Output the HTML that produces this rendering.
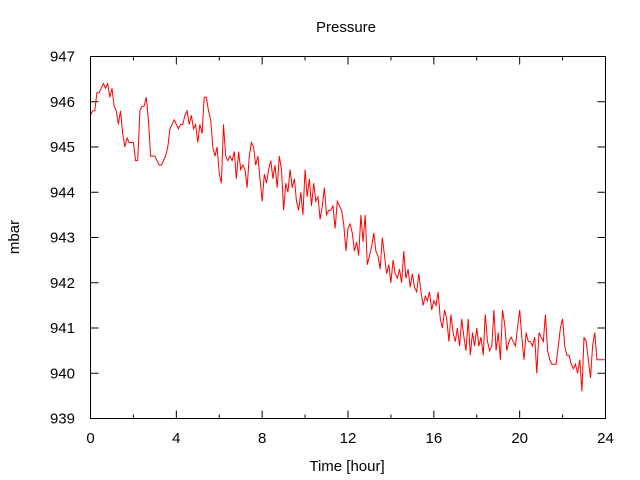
<!DOCTYPE html>
<html><head><meta charset="utf-8"><style>
body{margin:0;background:#fff;}
svg{display:block;font-family:"Liberation Sans",sans-serif;font-size:15px;}
</style></head><body>
<svg id="chart" width="640" height="480" xmlns="http://www.w3.org/2000/svg">
<rect width="640" height="480" fill="#fff"/>
<text x="346" y="32" text-anchor="middle">Pressure</text>
<text x="347" y="471" text-anchor="middle">Time [hour]</text>
<text x="19" y="237" text-anchor="middle" transform="rotate(-90 19 237)">mbar</text>
<g id="axes"></g>
<g id="series"></g>
<rect x="90.5" y="56.5" width="515" height="362" fill="none" stroke="#000" stroke-width="1"/>
</svg>
<script>
const xTicks=[0,4,8,12,16,20,24];
const yTicks=[939,940,941,942,943,944,945,946,947];
const step=0.1;
const pressure=[
945.7,945.8,945.8,946.2,946.2,946.3,946.4,946.3,946.4,946.1,
946.3,945.9,945.8,945.5,945.8,945.3,945.0,945.2,945.1,945.1,
945.1,944.7,944.7,945.8,945.9,945.9,946.1,945.6,944.8,944.8,
944.8,944.7,944.6,944.6,944.7,944.8,945.0,945.4,945.5,945.6,
945.5,945.4,945.5,945.5,945.7,945.8,945.5,945.7,945.4,945.5,
945.1,945.5,945.3,946.1,946.1,945.8,945.6,945.0,944.8,945.0,
944.4,944.2,945.5,944.8,944.7,944.8,944.7,944.9,944.3,944.9,
944.5,944.6,944.5,944.1,944.8,945.1,945.0,944.6,944.8,944.3,
943.8,944.4,944.2,944.5,944.7,944.3,944.6,944.1,944.8,944.5,
943.6,944.2,944.0,944.5,944.1,944.3,943.8,943.6,944.0,943.5,
944.5,943.9,944.3,943.7,944.2,943.8,943.9,943.4,943.7,944.1,
943.5,943.6,943.6,943.7,943.2,943.8,943.7,943.6,943.3,942.7,
943.2,943.3,943.1,942.7,942.9,942.6,943.5,942.9,943.5,942.4,
942.6,942.8,943.1,942.7,942.6,942.3,943.0,942.6,942.2,942.4,
942.0,942.5,942.2,942.1,942.3,942.0,942.7,942.1,942.3,941.9,
942.2,941.9,941.8,942.2,941.8,941.5,941.7,941.6,941.8,941.4,
941.6,941.5,941.8,941.2,941.0,941.4,941.2,940.7,941.3,940.9,
940.7,941.0,940.6,941.2,940.8,940.5,941.2,940.4,940.9,940.6,
941.0,940.6,940.8,940.4,941.3,940.7,940.5,940.6,941.4,940.5,
940.9,940.3,941.4,941.1,940.5,940.7,940.8,940.7,940.6,941.0,
941.4,940.8,940.3,940.9,940.7,940.7,940.6,940.8,940.0,940.9,
940.8,940.7,941.3,940.5,940.3,940.2,940.2,940.2,940.6,941.0,
941.2,940.6,940.4,940.4,940.2,940.1,940.2,940.0,940.3,939.6,
940.8,940.7,940.3,939.9,940.6,940.9,940.3,940.3,940.3,940.3,940.3];
const X0=90.5,X1=605.5,Y0=418.5,Y1=56.5;
function xs(h){return X0+(h-0)/(24-0)*(X1-X0);}
function ys(v){return Y0-(v-939)/(947-939)*(Y0-Y1);}
const NS="http://www.w3.org/2000/svg";
const axes=document.getElementById('axes');
function mk(tag,attrs,parent){const e=document.createElementNS(NS,tag);for(const k in attrs)e.setAttribute(k,attrs[k]);parent.appendChild(e);return e;}
yTicks.forEach(v=>{
  const y=ys(v);
  const t=mk('line',{x1:X0,x2:X0+8,y1:y,y2:y,stroke:'#000'},axes);
  
  
  const t2=mk('line',{x1:X1,x2:X1-8,y1:y,y2:y,stroke:'#000'},axes);
  
  
  const l=mk('text',{x:75,y:y+5,'text-anchor':'end'},axes);
  l.textContent=v;
  
  
});
xTicks.forEach((h,i)=>{
  const x=xs(h);
  const t=mk('line',{x1:x,x2:x,y1:Y0,y2:Y0-8,stroke:'#000'},axes);
  
  
  const t2=mk('line',{x1:x,x2:x,y1:Y1,y2:Y1+8,stroke:'#000'},axes);
  
  
  if(i<xTicks.length-1){
    const m=xs((h+xTicks[i+1])/2);
    const a=mk('line',{x1:m,x2:m,y1:Y0,y2:Y0-4,stroke:'#000'},axes);
    
    
    const b=mk('line',{x1:m,x2:m,y1:Y1,y2:Y1+4,stroke:'#000'},axes);
    
    
  }
  const l=mk('text',{x:x,y:443,'text-anchor':'middle'},axes);
  l.textContent=h;
  
  
});
const pts=pressure.map((v,i)=>xs(i*step).toFixed(1)+','+ys(v).toFixed(1)).join(' ');
const line=mk('polyline',{points:pts,fill:'none',stroke:'#f00','stroke-width':1},document.getElementById('series'));


</script>
</body></html>
